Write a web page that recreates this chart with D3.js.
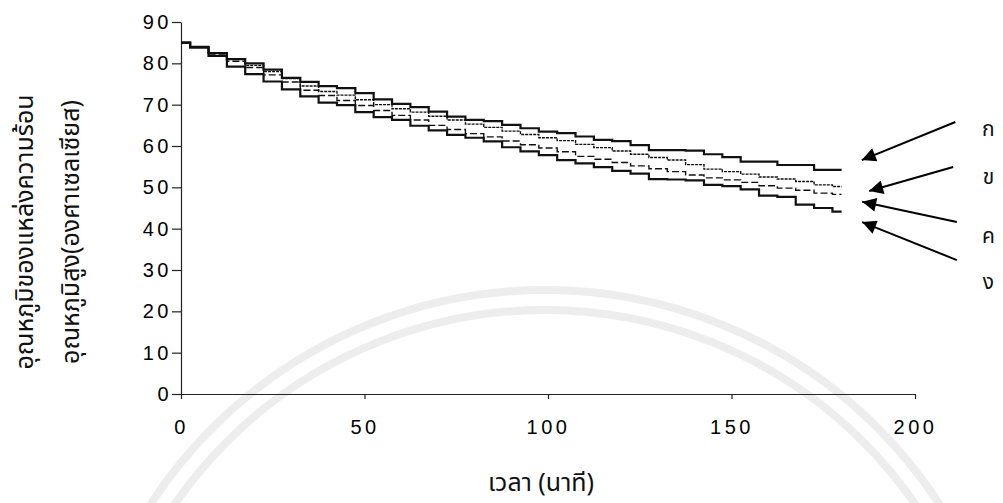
<!DOCTYPE html>
<meta charset="utf-8">
<html>
<title>Temperature chart</title>
<script src="https://d3js.org/d3.v7.min.js"></script>
<style>
  body {margin: 0; background: #fff;}
  .tick text {font-family: "Liberation Sans", Arial, sans-serif; font-size: 20px; letter-spacing: 3.5px; fill: #000;}
  .thai {font-family: "Noto Sans Thai", "Loma", "Garuda", "Norasi", "Tlwg Typo", sans-serif; fill: #111;}
  .domain, .tick line {stroke: #222; stroke-width: 1.2px;}
  .line {fill: none; stroke: #111;}
  .seal {fill: none; stroke: #ededed; stroke-width: 8px;}
</style>
<body>
<svg id="chart" width="1003" height="503"></svg>
<script>
// time in minutes, every 5 min
var times = [0,5,10,15,20,25,30,35,40,45,50,55,60,65,70,75,80,85,90,95,100,105,110,115,120,125,130,135,140,145,150,155,160,165,170,175,180];

var seriesKo   = [85,84,82.5,81,80,78.5,76.5,75.5,74.5,74,72.8,71.3,70.2,69.4,68.3,67.1,66.3,66,65.1,64.3,63.5,63.1,62.3,61.5,61.2,60.2,59,59,58.9,58,57.3,56.2,56.2,55.4,55.4,54.2,54.2];
var seriesKho  = [85,84,82.5,81,79.5,78,76.3,74.5,73.2,72.3,71.2,70,69,68.2,67.2,66.3,65.3,64.5,63.6,62.8,62,61.3,60.4,59.6,58.8,58,57.2,56.6,55.5,54.4,53.8,53.2,52.5,52,51.4,50.6,50.2];
var seriesKho2 = [85,84,82,80.5,79,77.2,75.5,73.5,72.2,71,69.8,68.6,67.4,66.3,65,64,63,62.2,61.2,60.3,59.5,58.6,57.5,56.8,56,55.2,54.5,53.8,53,52.3,51.8,51.2,50.4,49.8,49.3,48.6,48.3];
var seriesNgo  = [85,83.8,81.8,79.2,77.4,75.6,73.7,72,70.5,69.9,68.2,67,66.3,64.9,63.8,62.7,62,61.1,59.7,58.7,57.8,56.6,55.8,54.9,54,53.3,52,51.9,51.7,50.6,50.3,49.5,48,47.7,45.8,45,44.1];

var seriesNames = ["ก", "ข", "ค", "ง"];
// arrows: tail (t, T) and tip (t, T), label position (t, T)
var arrowTail = [[211, 65.8], [210.4, 54.9], [211.4, 41.6], [211.4, 32.4]];
var arrowTip  = [[185.5, 56.6], [187.5, 49.1], [185.6, 46.5], [185.6, 41.6]];
var labelPos  = [[220, 63.9], [220, 52.3], [220, 38], [220, 26.9]];

var xTicks = [0, 50, 100, 150, 200];
var yTicks = [0, 10, 20, 30, 40, 50, 60, 70, 80, 90];

var xTitle = "เวลา (นาที)";
var yTitle1 = "อุณหภูมิของแหล่งความร้อน";
var yTitle2 = "อุณหภูมิสูง(องศาเซลเซียส)";

var svg = d3.select("#chart"),
    margin = {top: 22, right: 88, bottom: 109, left: 181},
    width = +svg.attr("width") - margin.left - margin.right,
    height = +svg.attr("height") - margin.top - margin.bottom;

// faint watermark of the scanned page
var seal = svg.append("g");
[470, 450].forEach(function (r) {
  seal.append("circle").attr("class", "seal")
      .attr("cx", 545).attr("cy", 760).attr("r", r);
});

var x = d3.scaleLinear().domain([0, 200]).range([0, width]),
    y = d3.scaleLinear().domain([0, 90]).range([height, 0]);

var g = svg.append("g")
    .attr("transform", "translate(" + margin.left + "," + margin.top + ")");

g.append("g")
    .attr("transform", "translate(0," + height + ")")
    .call(d3.axisBottom(x).tickValues(xTicks).tickSize(5).tickSizeOuter(0).tickPadding(21));

g.append("g")
    .call(d3.axisLeft(y).tickValues(yTicks).tickSize(9).tickSizeOuter(0).tickPadding(0));

var line = d3.line()
    .curve(d3.curveStep)
    .x(function (d) { return x(d[0]); })
    .y(function (d) { return y(d[1]); });

var allSeries = [seriesKo, seriesKho, seriesKho2, seriesNgo];
var styles = [
  {w: 2.2, dash: null, color: "#111"},
  {w: 1.4, dash: "3,1", color: "#444"},
  {w: 1.4, dash: "7,3", color: "#555"},
  {w: 2.2, dash: null, color: "#111"}
];

allSeries.forEach(function (s, i) {
  g.append("path")
      .datum(times.map(function (t, j) { return [t, s[j]]; }))
      .attr("class", "line")
      .attr("stroke", styles[i].color)
      .attr("stroke-width", styles[i].w)
      .attr("stroke-dasharray", styles[i].dash)
      .attr("d", line);
});

svg.append("defs").append("marker")
    .attr("id", "arrow")
    .attr("viewBox", "0 0 10 10")
    .attr("refX", 10).attr("refY", 5)
    .attr("markerUnits", "userSpaceOnUse")
    .attr("markerWidth", 18).attr("markerHeight", 14)
    .attr("orient", "auto")
  .append("path")
    .attr("d", "M0,0L10,5L0,10Z")
    .attr("fill", "#000");

arrowTail.forEach(function (a, i) {
  g.append("line")
      .attr("x1", x(a[0])).attr("y1", y(a[1]))
      .attr("x2", x(arrowTip[i][0])).attr("y2", y(arrowTip[i][1]))
      .attr("stroke", "#000").attr("stroke-width", 2)
      .attr("marker-end", "url(#arrow)");
  g.append("text")
      .attr("class", "thai")
      .attr("x", x(labelPos[i][0])).attr("y", y(labelPos[i][1]))
      .attr("text-anchor", "middle")
      .attr("dominant-baseline", "central")
      .style("font-size", "21px")
      .text(seriesNames[i]);
});

svg.append("text")
    .attr("class", "thai")
    .attr("x", 541).attr("y", 491)
    .attr("text-anchor", "middle")
    .style("font-size", "25px")
    .text(xTitle);

svg.append("text")
    .attr("class", "thai")
    .attr("transform", "translate(25,232) rotate(-90)")
    .attr("text-anchor", "middle")
    .attr("dominant-baseline", "central")
    .style("font-size", "25px")
    .text(yTitle1);

svg.append("text")
    .attr("class", "thai")
    .attr("transform", "translate(71,232) rotate(-90)")
    .attr("text-anchor", "middle")
    .attr("dominant-baseline", "central")
    .style("font-size", "25px")
    .text(yTitle2);
</script>
</body>
</html>
